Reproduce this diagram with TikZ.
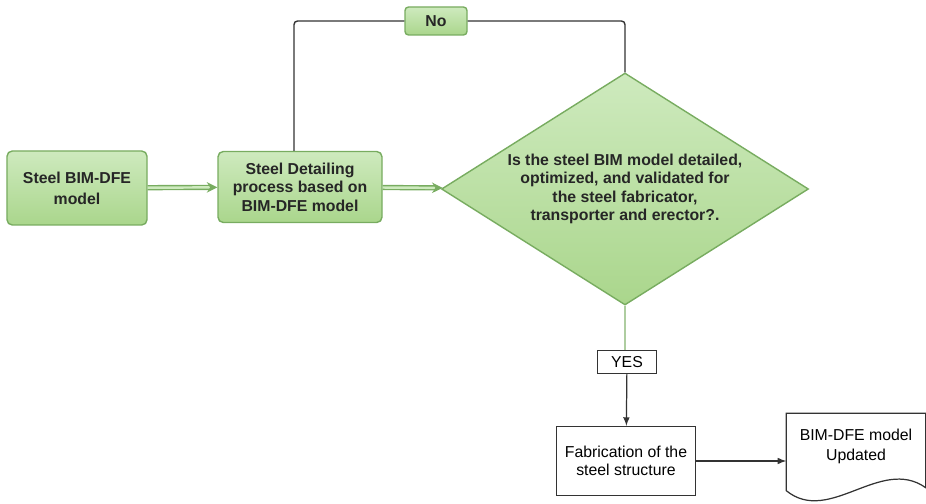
\documentclass[tikz,border=0pt]{standalone}
\usepackage{fontspec}
\setmainfont{Liberation Sans}
\usetikzlibrary{shapes.geometric,arrows.meta}
\definecolor{leaf}{RGB}{170,214,140}
\definecolor{leaftop}{RGB}{206,234,190}
\definecolor{leafline}{RGB}{120,172,96}
\tikzstyle{green box}=[
    draw = leafline,
    thick,
    top color = leaftop,
    bottom color = leaf,
    rounded corners = 3pt,
    align = center,
    text = black!85,
    font = \bfseries\fontsize{9}{10.5}\selectfont,
    inner sep = 0pt
]

\begin{document}
\begin{tikzpicture}[thick, main/.style = {draw=black!80, line width=0.7pt, align=center, inner sep=0pt, font=\fontsize{9}{10}\selectfont}, link/.style = {draw=leafline, double=leaftop, double distance=1.4pt, -{Stealth[length=6pt, width=6pt]}}]
        \useasboundingbox (0,0) rectangle (18.52,-10.08);

        \node[green box, minimum width=2.8cm, minimum height=1.48cm, font=\bfseries\fontsize{9}{12}\selectfont] (1) at (1.54,-3.76) {Steel BIM-DFE\\model};
        \node[green box, minimum width=3.28cm, minimum height=1.42cm] (2) at (6.0,-3.74) {Steel Detailing\\process based on\\BIM-DFE model};
        \node[green box, diamond, rounded corners=0pt, aspect=1.58, minimum width=7.34cm, minimum height=4.64cm] (3) at (12.5,-3.78) {Is the steel BIM model detailed,\\optimized, and validated for\\the steel fabricator,\\transporter and erector?.};
        \node[green box, rounded corners=2pt, minimum width=1.24cm, minimum height=0.56cm] (4) at (8.72,-0.42) {No};
        \node[main, minimum width=1.18cm, minimum height=0.46cm] (5) at (12.54,-7.24) {YES};
        \node[main, minimum width=2.78cm, minimum height=1.38cm] (6) at (12.52,-9.22) {Fabrication of the\\steel structure};
        \node[align=center, inner sep=0pt, minimum width=2.76cm, minimum height=1.3cm, font=\fontsize{9}{11.3}\selectfont] (7) at (17.12,-8.93) {BIM-DFE model\\Updated};

        % document outline with wavy foot
        \draw[black!80, line width=0.7pt] ([yshift=-0.22cm]7.south west) |- (7.north east) -- ([yshift=-0.16cm]7.south east) .. controls +(-0.9,0.64) and +(0.86,-0.7) .. ([yshift=-0.22cm]7.south west) -- cycle;

        \draw[link] (1) -- (2);
        \draw[link] (2) -- (3);
        \draw[black!80, line width=0.8pt, rounded corners=2pt] ([xshift=-0.12cm]2.north) |- (4.west);
        \draw[black!80, line width=0.8pt, rounded corners=2pt] (4.east) -| (3.north);
        \draw[leafline!60, line width=0.6pt] (3.south) -- (3.south |- 5.north);
        \draw[black!80, line width=0.7pt, -latex] (5) -- (6);
        \draw[black!80, line width=0.7pt, -latex] (6) -- (6 -| 7.west);

    \end{tikzpicture}
\end{document}
